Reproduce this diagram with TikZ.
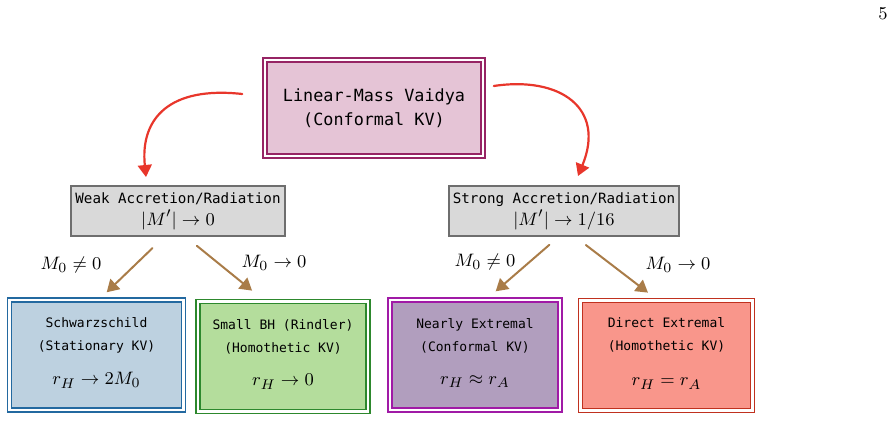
\documentclass[tikz,border=0pt]{standalone}
\usepackage{amsmath, amssymb}
\usepackage{fontspec}
\setmonofont{DejaVu Sans Mono}
\usepackage{tikz}
\usetikzlibrary{calc,arrows.meta}

\definecolor{vaidyaFill}{HTML}{E5C4D6}
\definecolor{vaidyaLine}{HTML}{962464}
\definecolor{regimeFill}{HTML}{D9D9D9}
\definecolor{regimeLine}{HTML}{6E6E6E}
\definecolor{schwFill}{HTML}{BDD1E0}
\definecolor{schwLine}{HTML}{2369A0}
\definecolor{rindFill}{HTML}{B4DD9C}
\definecolor{rindLine}{HTML}{2D882D}
\definecolor{nearFill}{HTML}{B19EBE}
\definecolor{nearLine}{HTML}{A01AA6}
\definecolor{extFill}{HTML}{F9968B}
\definecolor{extLine}{HTML}{C0311F}
\definecolor{flowRed}{HTML}{E8362B}
\definecolor{flowBrown}{HTML}{A97C48}

\newcommand{\ttTop}{\fontsize{8.4}{12}\selectfont\ttfamily}
\newcommand{\ttMid}{\fontsize{7.1}{10}\selectfont\ttfamily}
\newcommand{\ttLow}{\fontsize{6.5}{11.5}\selectfont\ttfamily}
\newcommand{\mathSz}{\fontsize{9.5}{11}\selectfont}

\begin{document}
\begin{tikzpicture}[x=0.5pt, y=-0.5pt, >={Triangle[width=7pt,length=6pt]},
    framed/.style={double=white, double distance=1.2pt, line width=0.8pt, align=center, inner sep=2pt},
    regime/.style={draw=regimeLine, fill=regimeFill, line width=1pt, align=center, inner sep=2pt,
                   minimum height=25pt, font=\ttMid},
    leaf/.style={framed, minimum height=55pt, font=\ttLow},
    redflow/.style={->, draw=flowRed, line width=1.1pt, line cap=round},
    brownflow/.style={->, draw=flowBrown, line width=1pt, line cap=round},
    cond/.style={font=\mathSz, inner sep=0pt}]

        % --- 1. Frame ---
        \useasboundingbox (0,0) rectangle (895,421);
        \node[font=\fontsize{9}{10}\selectfont, inner sep=0pt] (page) at (883,14) {5};

        % --- 2. Root ---
        \node[framed, draw=vaidyaLine, fill=vaidyaFill, minimum width=109pt, minimum height=48pt,
              font=\ttTop] (vaidya) at (374,108) {Linear-Mass Vaidya\\(Conformal KV)};

        % --- 3. Accretion regimes ---
        \node[regime, minimum width=106pt] (weak) at (178,211)
            {Weak Accretion/Radiation\\[1pt]{\mathSz$|M'|\to 0$}};
        \node[regime, minimum width=111pt] (strong) at (564,211)
            {Strong Accretion/Radiation\\[1pt]{\mathSz$|M'|\to 1/16$}};

        % --- 4. Limits ---
        \node[leaf, draw=schwLine, fill=schwFill, minimum width=87pt] (schw) at (96.5,355)
            {Schwarzschild\\[0pt](Stationary KV)\\[5.5pt]{\mathSz$r_H\to 2M_0$}\\[-8pt]};
        \node[leaf, draw=rindLine, fill=rindFill, minimum width=85pt] (rindler) at (283,356.5)
            {Small BH (Rindler)\\[0pt](Homothetic KV)\\[5pt]{\mathSz$r_H\to 0$}\\[-8pt]};
        \node[leaf, draw=nearLine, fill=nearFill, minimum width=85pt] (nearext) at (475,355)
            {Nearly Extremal\\[0pt](Conformal KV)\\[5pt]{\mathSz$r_H\approx r_A$}\\[-8pt]};
        \node[leaf, draw=extLine, fill=extFill, minimum width=86pt] (dirext) at (666.5,355.5)
            {Direct Extremal\\[0pt](Homothetic KV)\\[6pt]{\mathSz$r_H=r_A$}\\[-8pt]};

        % --- 5. Curved flows from the root ---
        \coordinate (vl) at ($(vaidya.west)+(-22,-14)$);
        \coordinate (vr) at ($(vaidya.east)+(10,-22)$);
        \coordinate (wk) at ($(weak.north)+(-32,-8)$);
        \coordinate (st) at ($(strong.north)+(14,-9)$);
        \draw[redflow] (vl) .. controls (170,86) and (140,118) .. (wk);
        \draw[redflow] (vr) .. controls (560,76) and (606,108) .. (st);

        % --- 6. Branches ---
        \draw[brownflow, shorten <=8pt, shorten >=5pt] ($(weak.south)+(-14,0)$) -- ($(schw.north)+(3,0)$);
        \draw[brownflow, shorten <=7pt, shorten >=8pt] ($(weak.south)+(8,0)$) -- ($(rindler.north)+(-18.5,0)$);
        \draw[brownflow, shorten <=6pt, shorten >=6pt] ($(strong.south)+(-5.6,0)$) -- ($(nearext.north)+(11.6,0)$);
        \draw[brownflow, shorten <=6.6pt, shorten >=5.8pt] ($(strong.south)+(11.4,0)$) -- ($(dirext.north)+(-9.3,0)$);

        \node[cond] (c1) at (71,265) {$M_0\neq 0$};
        \node[cond] (c2) at (274,263) {$M_0\to 0$};
        \node[cond] (c3) at (485,262) {$M_0\neq 0$};
        \node[cond] (c4) at (678,265) {$M_0\to 0$};
    \end{tikzpicture}
\end{document}
